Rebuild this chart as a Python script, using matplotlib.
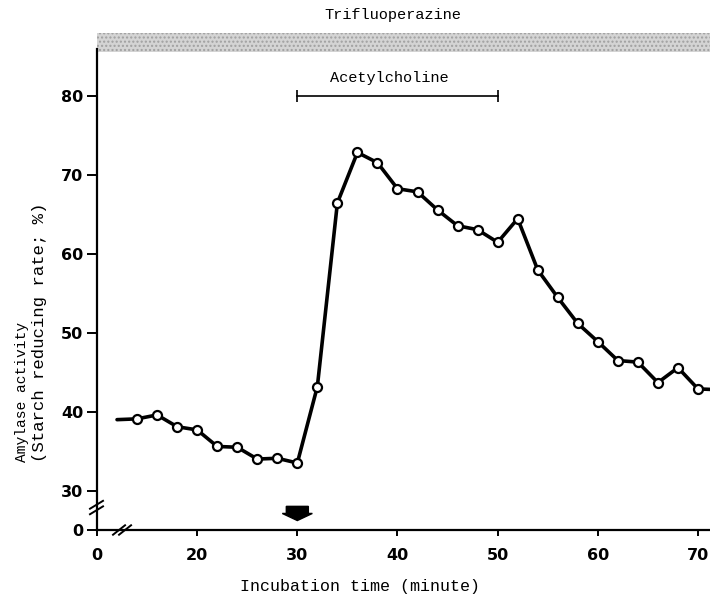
import matplotlib
matplotlib.use("Agg")
import matplotlib.pyplot as plt
from matplotlib.patches import Rectangle, FancyArrow
import matplotlib.transforms as mtransforms

# amylase activity (starch reducing rate, %) every 2 minutes
# first and last entries are where the drawn line starts / runs off the edge
time = [12, 14, 16, 18, 20, 22, 24, 26, 28, 30, 32, 34, 36, 38, 40, 42, 44,
        46, 48, 50, 52, 54, 56, 58, 60, 62, 64, 66, 68, 70, 72]
activity = [39.0, 39.1, 39.6, 38.1, 37.7, 35.6, 35.5, 34.0, 34.1, 33.5, 43.2,
            66.5, 72.9, 71.6, 68.3, 67.9, 65.6, 63.6, 63.1, 61.5, 64.5, 58.0,
            54.5, 51.2, 48.9, 46.5, 46.3, 43.7, 45.6, 42.9, 42.8]

xticks = [10, 20, 30, 40, 50, 60, 70]
xticklabels = ["0", "20", "30", "40", "50", "60", "70"]
yticks = [25, 30, 40, 50, 60, 70, 80]
yticklabels = ["0", "30", "40", "50", "60", "70", "80"]

ach_start, ach_end = 30, 50
mono = "Liberation Mono"

fig = plt.figure(figsize=(7.10, 6.01), dpi=100)
ax = fig.add_axes([97 / 710, 71 / 601, 613 / 710, 0.8])

ax.plot(time, activity, color="black", lw=2.6, marker="o", ms=6.5,
        mfc="white", mec="black", mew=1.6, markevery=list(range(1, len(time) - 1)),
        solid_capstyle="round", solid_joinstyle="round", zorder=3)

ax.set_xlim(10, 71.2)
ax.set_ylim(25, 86.0)

ax.spines["top"].set_visible(False)
ax.spines["right"].set_visible(False)
ax.spines["left"].set_linewidth(1.6)
ax.spines["bottom"].set_linewidth(1.6)

ax.set_xticks(xticks)
ax.set_xticklabels(xticklabels)
ax.set_yticks(yticks)
ax.set_yticklabels(yticklabels)
ax.tick_params(axis="x", direction="out", length=4, width=1.4, pad=9)
ax.tick_params(axis="y", direction="out", length=7, width=1.4, pad=3)
for lab in ax.get_xticklabels() + ax.get_yticklabels():
    lab.set_fontweight("bold")
    lab.set_fontsize(11.5)
    lab.set_family("DejaVu Sans")

# axis break marks
kw = dict(color="black", lw=1.4, clip_on=False, zorder=5)
ax.plot([9.3, 10.6], [27.0, 28.0], **kw)
ax.plot([9.3, 10.6], [27.7, 28.7], **kw)
ax.plot([12.2, 13.4], [24.4, 25.6], **kw)
ax.plot([11.6, 12.8], [24.4, 25.6], **kw)

# arrow at 30 min
arr = FancyArrow(30, 28.0, 0, -1.8, width=2.2, head_width=3.0, head_length=0.9,
                 length_includes_head=True, color="black", clip_on=False, zorder=5)
ax.add_patch(arr)

# acetylcholine bar
ax.plot([ach_start, ach_end], [80, 80], color="black", lw=1.2, marker="|", ms=8,
        mew=1.2, clip_on=False)
ax.text(39.2, 82.3, "Acetylcholine", family=mono, fontsize=11,
        ha="center", va="center")

# trifluoperazine band across the whole top
trans = mtransforms.blended_transform_factory(ax.transAxes, ax.transData)
band = Rectangle((0, 85.6), 1.0, 2.4, transform=trans, facecolor="#d4d4d4",
                 edgecolor="#a0a0a0", hatch="....", lw=0, clip_on=False, zorder=1)
ax.add_patch(band)
ax.text(39.5, 90.3, "Trifluoperazine", family=mono, fontsize=11,
        ha="center", va="center")

fig.text(360 / 710, 1 - 586 / 601, "Incubation time (minute)", family=mono,
         fontsize=12, ha="center", va="center")
fig.text(22 / 710, 1 - 462 / 601, "Amylase activity", family=mono,
         fontsize=10.5, rotation=90, ha="center", va="bottom")
fig.text(40 / 710, 1 - 462 / 601, "(Starch reducing rate; %)", family=mono,
         fontsize=12.5, rotation=90, ha="center", va="bottom")

fig.savefig("out.png", dpi=100)
